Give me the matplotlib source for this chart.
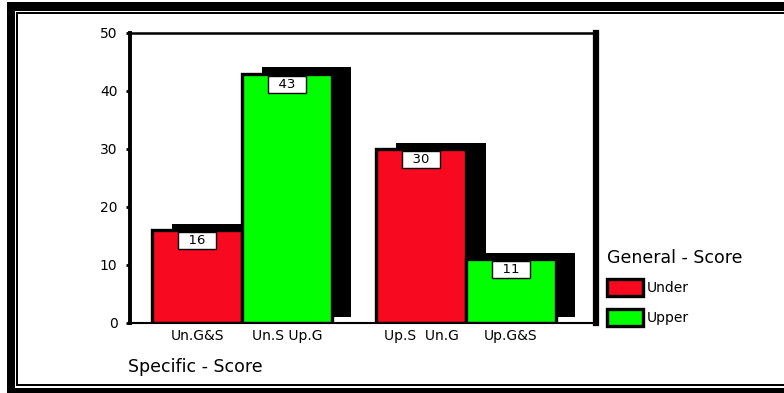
import numpy as np
import matplotlib.pyplot as plt
from matplotlib.patches import Rectangle, Patch

# data
bar_labels = ['Un.G&S', 'Un.S Up.G', 'Up.S  Un.G', 'Up.G&S']
values = [16, 43, 30, 11]
groups = ['Under', 'Upper', 'Under', 'Upper']
legend_names = ['Under', 'Upper']
colors = {'Under': '#f70a1f', 'Upper': '#00ff00'}
positions = [0, 1, 2.5, 3.5]

W, H = 784, 393
fig = plt.figure(figsize=(W / 100, H / 100), dpi=100)
plt.rcParams['font.family'] = ['DejaVu Sans']


def px(x0, y0, x1, y1):
    # pixel box (top-left origin) -> figure fraction rectangle
    return (x0 / W, 1 - y1 / H), (x1 - x0) / W, (y1 - y0) / H


# frame around the whole picture
for box in [(7, 2, 800, 10.5), (7, 2, 14.5, 400), (7, 387.5, 800, 400),
            (16, 12, 800, 13.8), (16, 12, 17.8, 386), (16, 384.2, 800, 386)]:
    xy, w, h = px(*box)
    fig.add_artist(Rectangle(xy, w, h, transform=fig.transFigure,
                             facecolor='black', edgecolor='none'))

ax = fig.add_axes([130 / W, 1 - 323 / H, (596 - 130) / W, (323 - 33) / H])

# drop shadows
dx, dy = 0.22, 1.1
ax.bar(np.array(positions) + dx, values, width=1.0, bottom=dy,
       color='black', edgecolor='none', zorder=1)

# bars
ax.bar(positions, values, width=1.0, color=[colors[g] for g in groups],
       edgecolor='black', linewidth=2.4, zorder=2)

for p, v in zip(positions, values):
    ax.text(p, v - 1.8, f'  {v}  ', ha='center', va='center', fontsize=9.5,
            zorder=3, bbox=dict(boxstyle='square,pad=0.15', fc='white',
                                ec='black', lw=1))

ax.set_xlim(-0.75, 4.45)
ax.set_ylim(0, 50)
ax.set_yticks([0, 10, 20, 30, 40, 50])
ax.set_xticks(positions, bar_labels)
ax.tick_params(axis='y', length=3, width=2, labelsize=10, pad=6)
ax.tick_params(axis='x', length=0, labelsize=10, pad=4)

ax.spines['left'].set_linewidth(2.8)
ax.spines['top'].set_linewidth(1.8)
ax.spines['bottom'].set_linewidth(1.5)
ax.spines['right'].set_linewidth(4.5)

fig.text(128 / W, 1 - 367 / H, 'Specific - Score', ha='left', va='center',
         fontsize=12.5)

handles = [Patch(facecolor=colors[n], edgecolor='black', linewidth=2.4)
           for n in legend_names]
leg = fig.legend(handles, legend_names, title='General - Score',
                 loc='upper left', bbox_to_anchor=(600 / W, 1 - 242 / H),
                 frameon=False, fontsize=10, title_fontsize=12.5,
                 handlelength=2.6, handleheight=1.5, handletextpad=0.3,
                 labelspacing=0.9, borderpad=0, alignment='left')
leg._legend_box.sep = 9

plt.savefig('out.png', dpi=100)
